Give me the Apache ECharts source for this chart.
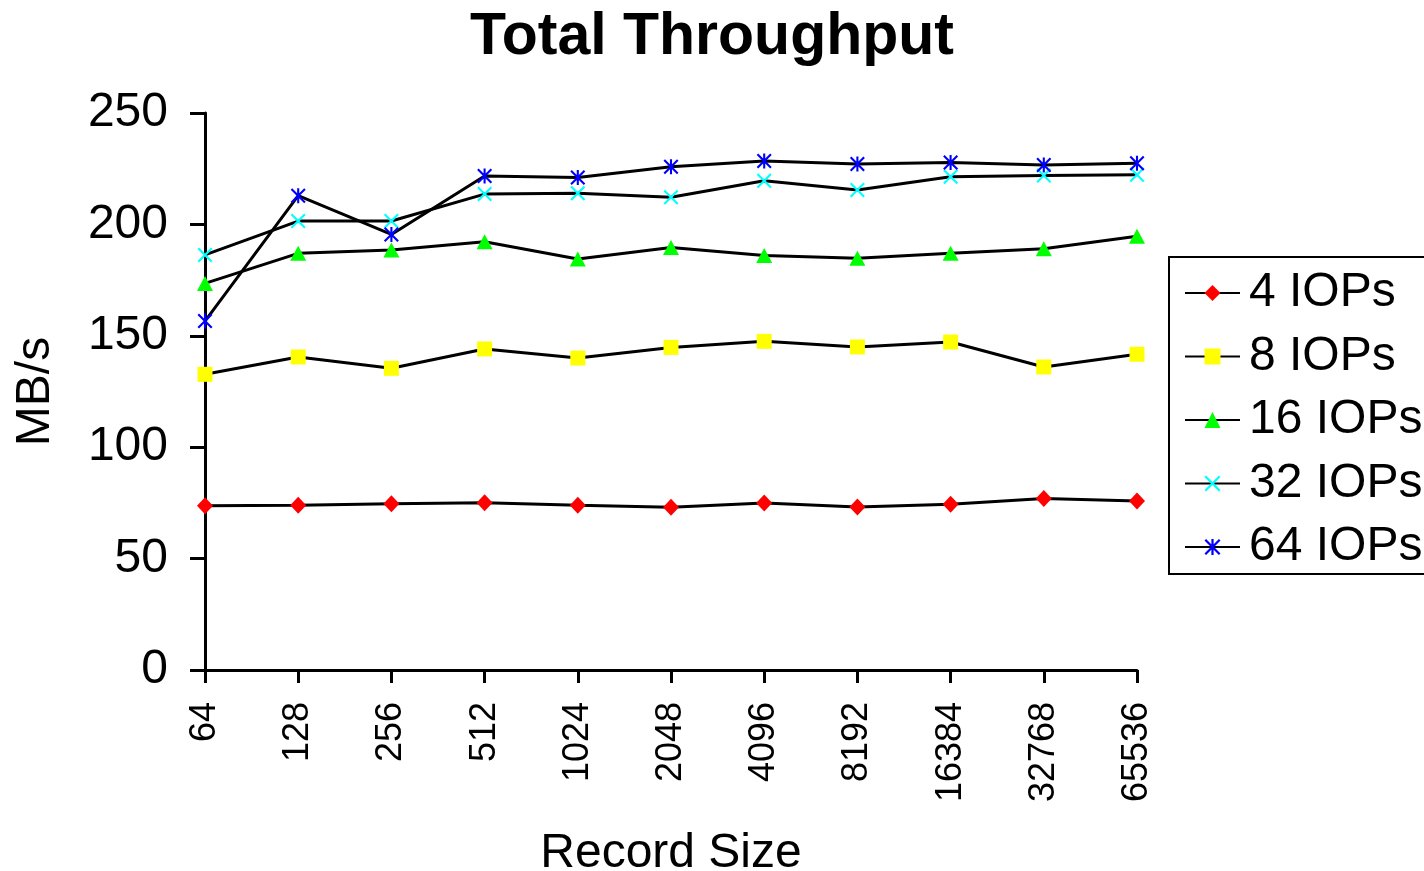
<!DOCTYPE html>
<html>
<head>
<meta charset="utf-8">
<title>Total Throughput</title>
<script src="https://cdn.jsdelivr.net/npm/echarts@6/dist/echarts.min.js"></script>
<style>
  html, body { margin: 0; padding: 0; background: #fff; }
  #chart { width: 1424px; height: 871px; }
</style>
</head>
<body>
<div id="chart"></div>
<script>
// Record sizes along the x axis
const recordSizes = ['64', '128', '256', '512', '1024', '2048', '4096', '8192', '16384', '32768', '65536'];

// Throughput in MB/s for each number of outstanding I/O operations
const iops4  = [73.7, 74.0, 74.6, 75.1, 74.0, 73.0, 75.0, 73.2, 74.4, 77.0, 75.9];
const iops8  = [132.7, 140.5, 135.4, 144.1, 140.0, 144.8, 147.5, 145.0, 147.2, 136.0, 141.7];
const iops16 = [173.5, 187.0, 188.5, 192.2, 184.5, 189.6, 186.0, 184.8, 187.0, 189.1, 194.7];
const iops32 = [186.3, 201.5, 201.5, 213.6, 214.0, 212.2, 219.6, 215.4, 221.4, 222.0, 222.3];
const iops64 = [156.6, 212.9, 195.5, 221.7, 221.1, 225.9, 228.5, 227.1, 227.8, 226.7, 227.4];

// Y axis range
const yMin = 0;
const yMax = 250;
const yStep = 50;

const FONT = '"Liberation Sans", Arial, Helvetica, sans-serif';

// Filled marker outlines: a diagonal cross and an asterisk (cross plus vertical bar)
const CROSS = 'path://M1,0L5,4L9,0L10,1L6,5L10,9L9,10L5,6L1,10L0,9L4,5L0,1Z';
const STAR = 'path://M1,0L5,4L9,0L10,1L6,5L10,9L9,10L5,6L1,10L0,9L4,5L0,1Z M4.3,0L5.7,0L5.7,10L4.3,10Z';

function makeSeries(name, data, symbol, size, color) {
  return {
    name: name,
    type: 'line',
    data: data,
    symbol: symbol,
    symbolSize: size,
    showAllSymbol: true,
    lineStyle: { color: '#000', width: 3 },
    itemStyle: { color: color },
    emphasis: { disabled: true },
    animation: false,
    z: 3
  };
}

const chart = echarts.init(document.getElementById('chart'), null, { renderer: 'canvas' });

chart.setOption({
  backgroundColor: '#fff',
  animation: false,
  textStyle: { fontFamily: FONT, color: '#000' },
  title: {
    text: 'Total Throughput',
    left: 'center',
    top: 3,
    textStyle: { fontFamily: FONT, fontSize: 59, fontWeight: 'bold', color: '#000' }
  },
  grid: { left: 205, right: 287, top: 113, bottom: 201, containLabel: false, outerBoundsMode: 'none' },
  legend: {
    orient: 'vertical',
    left: 1169,
    top: 257,
    padding: [11, 15, 2, 15],
    itemGap: 13.5,
    itemWidth: 55,
    itemHeight: 20,
    borderColor: '#000',
    borderWidth: 2,
    backgroundColor: '#fff',
    selectedMode: false,
    textStyle: { fontFamily: FONT, fontSize: 48, color: '#000', lineHeight: 50, padding: [0, 0, 0, 4] },
    data: ['4 IOPs', '8 IOPs', '16 IOPs', '32 IOPs', '64 IOPs']
  },
  xAxis: {
    type: 'category',
    data: recordSizes,
    boundaryGap: false,
    name: 'Record Size',
    nameLocation: 'middle',
    nameGap: 160,
    nameTextStyle: { fontFamily: FONT, fontSize: 48, color: '#000' },
    axisLine: { lineStyle: { color: '#000', width: 3 } },
    axisTick: { show: true, inside: false, length: 13, alignWithLabel: true, lineStyle: { color: '#000', width: 3 } },
    axisLabel: { rotate: 90, margin: 32, fontFamily: FONT, fontSize: 36, color: '#000', interval: 0 },
    splitLine: { show: false }
  },
  yAxis: {
    type: 'value',
    min: yMin,
    max: yMax,
    interval: yStep,
    name: 'MB/s',
    nameLocation: 'middle',
    nameRotate: 90,
    nameGap: 145,
    nameTextStyle: { fontFamily: FONT, fontSize: 48, color: '#000' },
    axisLine: { show: true, lineStyle: { color: '#000', width: 3 } },
    axisTick: { show: true, inside: false, length: 15, lineStyle: { color: '#000', width: 3 } },
    axisLabel: { margin: 37, fontFamily: FONT, fontSize: 48, color: '#000' },
    splitLine: { show: false }
  },
  series: [
    makeSeries('4 IOPs', iops4, 'diamond', [16, 17], '#ff0000'),
    makeSeries('8 IOPs', iops8, 'rect', 15, '#ffff00'),
    makeSeries('16 IOPs', iops16, 'triangle', [16, 15], '#00ff00'),
    makeSeries('32 IOPs', iops32, CROSS, 15, '#00ffff'),
    makeSeries('64 IOPs', iops64, STAR, 15, '#0000ff')
  ]
});
</script>
</body>
</html>
